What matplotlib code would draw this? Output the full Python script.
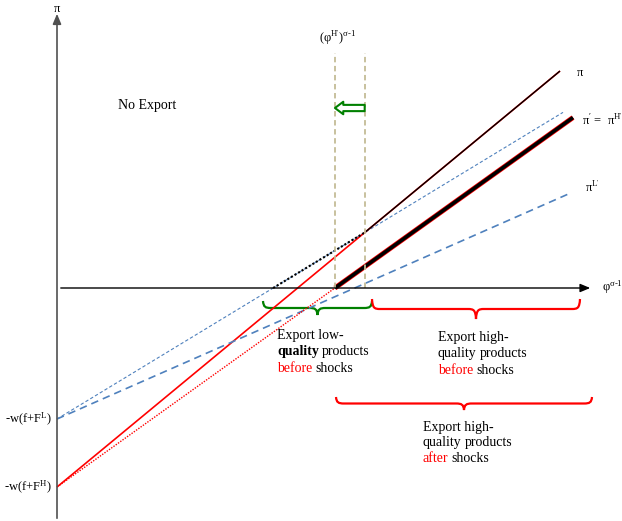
import numpy as np
import matplotlib.pyplot as plt
from matplotlib.path import Path
from matplotlib.patches import PathPatch

plt.rcParams['font.family'] = ['Liberation Serif', 'DejaVu Serif']
plt.rcParams['mathtext.fontset'] = 'custom'
plt.rcParams['mathtext.rm'] = 'Liberation Serif'
plt.rcParams['mathtext.it'] = 'Liberation Serif:italic'

# profit lines: pi = fixed + slope * phi^(sigma-1)
fixed_low = -1.31
fixed_high = -1.99
slope_low = 0.606
slope_high = 0.827
slope_low_new = 0.44
slope_high_new = 0.716

# right ends of the drawn lines
end_low = 5.06
end_high = 5.03
end_low_new = 5.14
end_high_new = 5.16

# cutoffs
cut_low = -fixed_low / slope_low
cut_switch = (fixed_low - fixed_high) / (slope_high - slope_low)
cut_high_new = -fixed_high / slope_high_new

# brace spans (x from, x to, top y)
brace_green = (2.06, 3.15, -0.13)
brace_before = (3.15, 5.23, -0.11)
brace_after = (2.79, 5.35, -1.09)

BLUE = '#4f81bd'
RED = '#ff0000'
GREEN = '#008000'
TAN = '#c4bc96'

fig = plt.figure(figsize=(6.22, 5.21), dpi=100)
ax = fig.add_axes([0, 0, 1, 1])
ax.set_xlim(-0.57, 5.65)
ax.set_ylim(-2.33, 2.88)
ax.axis('off')


def line(x0, x1, fixed, slope, **kw):
    xs = np.array([x0, x1])
    ax.plot(xs, fixed + slope * xs, solid_capstyle='butt', **kw)


# axes arrows
ax.annotate('', xy=(0, 2.77), xytext=(0, -2.33),
            arrowprops=dict(arrowstyle='-|>,head_length=0.6,head_width=0.25', color='#505050', lw=1.2))
ax.annotate('', xy=(5.36, 0), xytext=(0.01, 0),
            arrowprops=dict(arrowstyle='-|>,head_length=0.6,head_width=0.25', color='black', lw=1.0))

# before shocks
line(0, end_low, fixed_low, slope_low, color=BLUE, lw=0.8, ls=(0, (3, 2)))
line(0, end_high, fixed_high, slope_high, color=RED, lw=1.2)
line(cut_low, cut_switch, fixed_low, slope_low, color='black', lw=1.5, ls=(0, (1, 1)))
line(cut_switch, end_high, fixed_high, slope_high, color='black', lw=1.0)

# after shocks
line(0, end_low_new, fixed_low, slope_low_new, color=BLUE, lw=1.2, ls=(0, (4.5, 3)))
line(0, cut_high_new, fixed_high, slope_high_new, color=RED, lw=1.0, ls=(0, (1, 1)))
line(cut_high_new, end_high_new, fixed_high, slope_high_new, color=RED, lw=3.6)
line(cut_high_new, end_high_new, fixed_high, slope_high_new, color='black', lw=2.6)

# cutoff markers
for xc in [cut_high_new, cut_switch]:
    ax.plot([xc, xc], [0, 2.35], color=TAN, lw=1.3, ls=(0, (3, 2)))

ax.annotate('', xy=(cut_high_new, 1.80), xytext=(cut_switch, 1.80),
            arrowprops=dict(arrowstyle='simple,head_length=0.6,head_width=0.9,tail_width=0.45',
                            fc='white', ec=GREEN, lw=1.5, shrinkA=0, shrinkB=0))


def brace(x0, x1, y, color, h=0.14, r=0.08):
    xm = (x0 + x1) / 2
    ym = y - h * 0.5
    verts = [(x0, y),
             (x0 + 0.005, ym + 0.01), (x0 + r * 0.3, ym), (x0 + r, ym),
             (xm - r, ym),
             (xm - r * 0.3, ym), (xm - 0.005, ym - 0.01), (xm, y - h),
             (xm + 0.005, ym - 0.01), (xm + r * 0.3, ym), (xm + r, ym),
             (x1 - r, ym),
             (x1 - r * 0.3, ym), (x1 - 0.005, ym + 0.01), (x1, y)]
    codes = [Path.MOVETO] + [Path.CURVE4] * 3 + [Path.LINETO] + [Path.CURVE4] * 6 + \
            [Path.LINETO] + [Path.CURVE4] * 3
    ax.add_patch(PathPatch(Path(verts, codes), fc='none', ec=color, lw=1.6))


brace(*brace_green, GREEN)
brace(*brace_before, RED, h=0.2)
brace(*brace_after, RED, h=0.13)

renderer = fig.canvas.get_renderer()
inv = ax.transData.inverted()


def rich_line(x, y, pieces):
    for txt, color, weight in pieces:
        t = ax.text(x, y, txt, color=color, fontweight=weight, fontsize=10, ha='left', va='center')
        bb = t.get_window_extent(renderer=renderer)
        x = inv.transform((bb.x1, bb.y0))[0] + 0.028


def block(x, y, kind, when, bold_quality=False):
    rich_line(x, y, [('Export ' + kind + '-', 'black', 'normal')])
    rich_line(x, y - 0.16, [('quality', 'black', 'bold' if bold_quality else 'normal'),
                            ('products', 'black', 'normal')])
    rich_line(x, y - 0.32, [(when, RED, 'normal'), ('shocks', 'black', 'normal')])


block(2.20, -0.48, 'low', 'before', bold_quality=True)
block(3.81, -0.50, 'high', 'before')
block(3.66, -1.39, 'high', 'after')

ax.text(0.61, 1.83, 'No Export', fontsize=10, ha='left', va='center')
ax.text(0, 2.79, 'π', fontsize=9, ha='center', va='center')
ax.text(5.45, 0.01, r'φ$^{\mathrm{σ\text{-}1}}$', fontsize=9, ha='left', va='center')
ax.text(5.20, 2.15, 'π', fontsize=9, ha='left', va='center')
ax.text(5.25, 1.68, r"π$^{\prime}$ =  π$^{\mathrm{H}^{\prime}}$", fontsize=9, ha='left', va='center')
ax.text(5.28, 1.01, r"π$^{\mathrm{L}^{\prime}}$", fontsize=9, ha='left', va='center')
ax.text(-0.05, fixed_low, r'-w(f+F$^{\mathrm{L}}$)', fontsize=9, ha='right', va='center')
ax.text(-0.05, fixed_high, r'-w(f+F$^{\mathrm{H}}$)', fontsize=9, ha='right', va='center')
ax.text(2.81, 2.50, r"(φ$^{\mathrm{H}^{\prime}}$)$^{\mathrm{σ\text{-}1}}$", fontsize=9, ha='center', va='center')

fig.savefig('out.png', dpi=100)
